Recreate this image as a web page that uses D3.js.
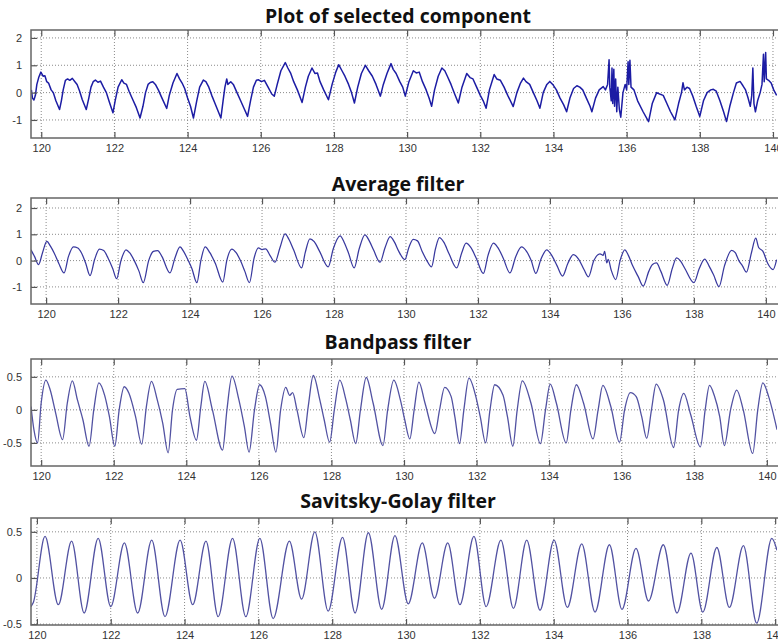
<!DOCTYPE html>
<html>
<head>
<meta charset="utf-8">
<script src="https://cdn.jsdelivr.net/npm/d3@7"></script>
<style>
  body { margin: 0; background: #fff; }
  .tick text { font-family: "Liberation Sans", Arial, sans-serif; font-size: 11px; fill: #333; }
  .title { font-family: "Open Sans", Lato, sans-serif; font-weight: bold; font-size: 19.5px; fill: #111; }
</style>
</head>
<body>
<div id="chart"></div>
<script>
// x ticks shared by every panel
const xTicks = [120, 122, 124, 126, 128, 130, 132, 134, 136, 138, 140];
const yTicksRaw = [2, 1, 0, -1];
const yTicksFiltered = [0.5, 0, -0.5];

const titles = ["Plot of selected component", "Average filter", "Bandpass filter", "Savitsky-Golay filter"];

// [time (s), amplitude]
const component = [
  [119.73, 0.1], [119.76, -0.2], [119.8, -0.27], [119.84, -0.1], [119.88, 0.3], [119.93, 0.55], [119.99, 0.75],
  [120.05, 0.6], [120.1, 0.62], [120.15, 0.4], [120.2, 0.35], [120.27, 0.1], [120.33, 0.0], [120.4, -0.3], [120.5, -0.62],
  [120.55, -0.3], [120.6, 0.1], [120.66, 0.45], [120.72, 0.5], [120.78, 0.45], [120.85, 0.52], [120.92, 0.4], [120.98, 0.3],
  [121.05, 0.05], [121.12, -0.25], [121.23, -0.62], [121.3, -0.2], [121.36, 0.2], [121.42, 0.4], [121.48, 0.46], [121.55, 0.38],
  [121.62, 0.42], [121.7, 0.2], [121.78, 0.0], [121.85, -0.3], [121.9, -0.5], [121.96, -0.74], [122.02, -0.3], [122.1, 0.2],
  [122.2, 0.47], [122.26, 0.35], [122.33, 0.3], [122.4, 0.05], [122.5, -0.25], [122.6, -0.55], [122.7, -0.93], [122.78, -0.5],
  [122.85, 0.0], [122.92, 0.3], [122.98, 0.37], [123.05, 0.4], [123.12, 0.3], [123.2, 0.1], [123.3, -0.2], [123.43, -0.58],
  [123.5, -0.1], [123.6, 0.35], [123.71, 0.7], [123.78, 0.5], [123.85, 0.35], [123.92, 0.15], [124.0, -0.2], [124.08, -0.5],
  [124.16, -0.93], [124.25, -0.3], [124.33, 0.2], [124.43, 0.46], [124.5, 0.4], [124.58, 0.2], [124.66, -0.1], [124.75, -0.4],
  [124.91, -0.93], [124.97, -0.3], [125.02, 0.2], [125.07, 0.5], [125.1, 0.3], [125.18, 0.4], [125.25, 0.3], [125.35, 0.0],
  [125.45, -0.3], [125.55, -0.6], [125.64, -0.87], [125.72, -0.3], [125.8, 0.2], [125.88, 0.45], [125.94, 0.47], [126.02, 0.4],
  [126.1, 0.45], [126.2, 0.2], [126.3, -0.05], [126.37, -0.13], [126.45, 0.3], [126.55, 0.8], [126.67, 1.1], [126.74, 0.9],
  [126.82, 0.7], [126.9, 0.4], [127.0, 0.1], [127.13, -0.36], [127.22, 0.2], [127.3, 0.6], [127.4, 0.9], [127.48, 0.7],
  [127.55, 0.72], [127.62, 0.4], [127.72, 0.1], [127.85, -0.26], [127.95, 0.3], [128.05, 0.75], [128.13, 1.02], [128.22, 0.8],
  [128.3, 0.6], [128.4, 0.3], [128.48, 0.0], [128.56, -0.38], [128.65, 0.2], [128.75, 0.7], [128.86, 1.0], [128.95, 0.8],
  [129.05, 0.6], [129.15, 0.3], [129.27, -0.13], [129.35, 0.3], [129.45, 0.7], [129.56, 1.06], [129.62, 0.85], [129.7, 0.7],
  [129.8, 0.4], [129.88, 0.2], [129.95, -0.13], [130.05, 0.4], [130.17, 0.8], [130.25, 0.72], [130.33, 0.75], [130.42, 0.4],
  [130.52, 0.1], [130.6, -0.2], [130.67, -0.5], [130.75, 0.1], [130.85, 0.6], [130.95, 0.9], [131.03, 0.8], [131.1, 0.6],
  [131.2, 0.3], [131.3, -0.05], [131.4, -0.38], [131.5, 0.2], [131.63, 0.7], [131.72, 0.55], [131.8, 0.5], [131.9, 0.2],
  [132.0, -0.1], [132.08, -0.3], [132.16, -0.57], [132.25, 0.1], [132.38, 0.66], [132.45, 0.5], [132.55, 0.45], [132.65, 0.2],
  [132.75, -0.1], [132.9, -0.51], [133.0, 0.0], [133.1, 0.35], [133.18, 0.53], [133.25, 0.4], [133.35, 0.3], [133.45, 0.0],
  [133.55, -0.3], [133.63, -0.57], [133.72, 0.0], [133.82, 0.3], [133.9, 0.41], [133.98, 0.3], [134.08, 0.1], [134.18, -0.2],
  [134.28, -0.45], [134.36, -0.7], [134.45, -0.2], [134.55, 0.15], [134.64, 0.25], [134.72, 0.2], [134.8, 0.1], [134.9, -0.2],
  [135.0, -0.5], [135.05, -0.7], [135.15, -0.2], [135.25, 0.1], [135.36, 0.22], [135.42, 0.1], [135.48, 0.3], [135.52, 1.2],
  [135.54, 0.2], [135.58, -0.3], [135.6, 0.9], [135.62, -0.4], [135.65, 0.85], [135.67, -0.5], [135.7, 0.5], [135.73, -0.7],
  [135.76, 0.2], [135.8, -0.6], [135.84, -0.9], [135.9, 0.0], [135.96, 0.3], [136.0, 0.1], [136.04, 1.13], [136.06, 0.3],
  [136.09, 1.18], [136.12, 0.2], [136.2, 0.1], [136.3, -0.3], [136.45, -0.7], [136.6, -1.06], [136.7, -0.4], [136.82, 0.0],
  [136.9, -0.05], [137.0, -0.1], [137.1, -0.4], [137.2, -0.7], [137.32, -1.0], [137.42, -0.4], [137.5, 0.0], [137.54, 0.36],
  [137.58, 0.1], [137.65, 0.2], [137.72, 0.15], [137.8, -0.1], [137.9, -0.5], [138.0, -0.87], [138.1, -0.3], [138.2, 0.0],
  [138.3, 0.1], [138.37, 0.12], [138.45, 0.05], [138.55, -0.3], [138.65, -0.7], [138.73, -1.06], [138.82, -0.5], [138.92, 0.0],
  [139.0, 0.35], [139.1, 0.41], [139.18, 0.25], [139.25, 0.1], [139.32, -0.2], [139.38, -0.5], [139.42, -0.1], [139.45, 0.9],
  [139.48, -0.4], [139.52, -0.7], [139.58, -0.3], [139.65, 0.0], [139.7, 0.3], [139.74, 1.4], [139.76, 0.4], [139.8, 1.47],
  [139.82, 0.5], [139.88, 0.45], [139.95, 0.35], [140.02, 0.1], [140.1, -0.1]
];

const averaged = [
  [119.58, 0.41], [119.68, 0.15], [119.79, -0.15], [119.9, 0.3], [120.02, 0.73], [120.12, 0.55], [120.22, 0.3], [120.35, -0.1],
  [120.5, -0.47], [120.62, 0.15], [120.76, 0.52], [120.88, 0.48], [120.98, 0.3], [121.1, -0.1], [121.22, -0.57], [121.35, 0.05],
  [121.48, 0.44], [121.6, 0.38], [121.72, 0.1], [121.85, -0.3], [121.96, -0.69], [122.08, 0.0], [122.22, 0.41], [122.32, 0.3],
  [122.45, 0.0], [122.58, -0.4], [122.7, -0.84], [122.85, 0.0], [122.98, 0.35], [123.1, 0.38], [123.22, 0.15], [123.44, -0.47],
  [123.58, 0.1], [123.72, 0.52], [123.82, 0.35], [123.95, 0.0], [124.05, -0.3], [124.19, -0.84], [124.3, 0.0], [124.42, 0.52],
  [124.55, 0.3], [124.7, -0.1], [124.91, -0.82], [125.02, 0.0], [125.16, 0.44], [125.28, 0.3], [125.4, 0.0], [125.52, -0.4],
  [125.65, -0.84], [125.78, 0.1], [125.9, 0.48], [126.0, 0.42], [126.1, 0.45], [126.22, 0.2], [126.36, -0.06], [126.5, 0.5],
  [126.64, 1.02], [126.75, 0.8], [126.88, 0.4], [127.1, -0.28], [127.2, 0.3], [127.33, 0.83], [127.45, 0.72], [127.6, 0.35],
  [127.84, -0.24], [127.98, 0.45], [128.17, 0.94], [128.28, 0.7], [128.4, 0.3], [128.56, -0.28], [128.7, 0.45], [128.86, 0.98],
  [128.98, 0.75], [129.1, 0.4], [129.28, -0.06], [129.42, 0.5], [129.56, 0.91], [129.68, 0.7], [129.8, 0.35], [129.97, 0.04],
  [130.08, 0.5], [130.2, 0.81], [130.32, 0.75], [130.45, 0.35], [130.58, 0.0], [130.71, -0.24], [130.82, 0.45], [130.93, 0.87],
  [131.05, 0.7], [131.2, 0.25], [131.41, -0.28], [131.55, 0.3], [131.67, 0.66], [131.8, 0.5], [131.95, 0.1], [132.15, -0.49],
  [132.28, 0.2], [132.43, 0.66], [132.55, 0.5], [132.7, 0.1], [132.89, -0.47], [133.05, 0.15], [133.21, 0.52], [133.35, 0.35],
  [133.48, 0.0], [133.61, -0.49], [133.75, 0.05], [133.91, 0.41], [134.05, 0.2], [134.2, -0.2], [134.35, -0.59], [134.5, -0.1],
  [134.65, 0.23], [134.8, 0.05], [134.95, -0.35], [135.07, -0.62], [135.22, 0.0], [135.39, 0.26], [135.48, 0.2], [135.52, 0.35],
  [135.58, -0.09], [135.62, 0.05], [135.7, -0.35], [135.83, -0.72], [135.95, 0.0], [136.08, 0.41], [136.18, 0.2], [136.3, -0.2],
  [136.45, -0.6], [136.59, -0.97], [136.75, -0.4], [136.85, -0.15], [136.96, -0.09], [137.08, -0.4], [137.26, -0.94], [137.4, -0.3],
  [137.52, 0.1], [137.62, 0.0], [137.75, -0.3], [138.0, -0.84], [138.15, -0.3], [138.3, 0.06], [138.42, -0.2], [138.55, -0.55],
  [138.7, -0.99], [138.85, -0.2], [139.05, 0.39], [139.15, 0.3], [139.25, 0.0], [139.35, -0.2], [139.46, -0.44], [139.6, 0.3],
  [139.72, 0.85], [139.8, 0.5], [139.92, 0.35], [140.05, -0.1], [140.2, -0.34], [140.3, 0.04]
];

const bandpass = [
  [119.72, 0.05], [119.8, -0.3], [119.9, -0.5], [120.0, 0.1], [120.13, 0.45], [120.25, 0.3], [120.4, -0.05], [120.59, -0.45],
  [120.72, 0.1], [120.86, 0.44], [121.0, 0.15], [121.15, -0.15], [121.32, -0.55], [121.45, 0.0], [121.59, 0.41], [121.75, 0.22],
  [121.88, -0.1], [122.03, -0.55], [122.15, 0.0], [122.29, 0.35], [122.42, 0.25], [122.6, -0.1], [122.77, -0.52], [122.9, 0.05],
  [123.04, 0.43], [123.2, 0.15], [123.35, -0.2], [123.5, -0.65], [123.62, 0.0], [123.75, 0.31], [123.96, 0.32], [124.1, -0.1],
  [124.28, -0.46], [124.4, 0.05], [124.51, 0.43], [124.72, 0.0], [125.0, -0.61], [125.12, 0.0], [125.26, 0.51], [125.45, 0.15],
  [125.6, -0.25], [125.73, -0.64], [125.88, 0.0], [126.02, 0.38], [126.18, 0.2], [126.32, -0.2], [126.47, -0.64], [126.6, 0.0],
  [126.74, 0.34], [126.85, 0.22], [126.93, 0.26], [127.05, 0.0], [127.24, -0.42], [127.36, 0.05], [127.5, 0.52], [127.68, 0.15],
  [127.8, -0.15], [127.95, -0.49], [128.08, 0.0], [128.23, 0.45], [128.4, 0.15], [128.52, -0.15], [128.67, -0.51], [128.8, 0.0],
  [128.96, 0.49], [129.15, 0.1], [129.42, -0.54], [129.55, 0.0], [129.72, 0.45], [129.9, 0.15], [130.02, -0.15], [130.16, -0.44],
  [130.28, 0.0], [130.41, 0.42], [130.58, 0.1], [130.85, -0.36], [130.98, 0.0], [131.12, 0.34], [131.3, 0.2], [131.4, -0.1],
  [131.53, -0.51], [131.65, 0.0], [131.79, 0.48], [131.98, 0.2], [132.1, -0.1], [132.25, -0.5], [132.37, 0.0], [132.5, 0.38],
  [132.73, 0.22], [132.85, -0.1], [133.0, -0.55], [133.12, 0.0], [133.26, 0.44], [133.5, 0.1], [133.76, -0.51], [133.9, 0.0],
  [134.03, 0.39], [134.2, 0.1], [134.47, -0.5], [134.6, 0.0], [134.75, 0.38], [134.95, 0.1], [135.21, -0.44], [135.35, 0.0],
  [135.48, 0.37], [135.7, 0.05], [135.94, -0.49], [136.08, 0.0], [136.24, 0.26], [136.4, 0.2], [136.55, -0.1], [136.69, -0.43],
  [136.82, 0.0], [136.95, 0.39], [137.15, 0.15], [137.43, -0.57], [137.57, 0.0], [137.71, 0.25], [137.9, -0.07], [138.17, -0.56],
  [138.3, 0.0], [138.42, 0.37], [138.55, 0.22], [138.7, -0.1], [138.83, -0.54], [139.0, 0.0], [139.17, 0.3], [139.35, 0.0],
  [139.61, -0.66], [139.75, 0.0], [139.89, 0.41], [140.05, 0.2], [140.28, -0.3]
];

const savgol = [
  [119.84, -0.31], [119.9, -0.27], [120.22, 0.45], [120.58, -0.29], [120.94, 0.4], [121.28, -0.38], [121.66, 0.43], [122.0, -0.31],
  [122.37, 0.38], [122.73, -0.38], [123.11, 0.41], [123.47, -0.42], [123.88, 0.41], [124.22, -0.29], [124.58, 0.4], [124.91, -0.42],
  [125.3, 0.43], [125.66, -0.42], [126.04, 0.43], [126.4, -0.44], [126.84, 0.4], [127.17, -0.23], [127.53, 0.5], [127.89, -0.36],
  [128.28, 0.44], [128.62, -0.38], [128.98, 0.49], [129.34, -0.34], [129.7, 0.46], [130.06, -0.28], [130.44, 0.38], [130.77, -0.22],
  [131.13, 0.38], [131.46, -0.29], [131.84, 0.45], [132.17, -0.31], [132.57, 0.41], [132.91, -0.33], [133.27, 0.41], [133.63, -0.35],
  [134.01, 0.41], [134.37, -0.32], [134.76, 0.37], [135.12, -0.37], [135.51, 0.36], [135.85, -0.34], [136.23, 0.32], [136.57, -0.25],
  [136.97, 0.36], [137.34, -0.38], [137.72, 0.27], [138.04, -0.37], [138.42, 0.33], [138.76, -0.32], [139.14, 0.35], [139.5, -0.49],
  [139.91, 0.43], [140.05, 0.3]
];

const width = 778, height = 641;
const left = 31, right = 777;

// per-panel layout: pixel box, domains, styling
const panels = [
  { title: titles[0], titleY: 23, top: 30, bottom: 138, xDom: [119.72, 140.11], yDom: [-1.66, 2.29],
    yTicks: yTicksRaw, data: component, color: "#1c1ca4", curve: d3.curveLinear, sw: 1.5 },
  { title: titles[1], titleY: 191, top: 198, bottom: 304, xDom: [119.58, 140.31], yDom: [-1.65, 2.38],
    yTicks: yTicksRaw, data: averaged, color: "#38389e", curve: d3.curveMonotoneX, sw: 1.25 },
  { title: titles[2], titleY: 349, top: 359, bottom: 466, xDom: [119.72, 140.28], yDom: [-0.85, 0.77],
    yTicks: yTicksFiltered, data: bandpass, color: "#5252a2", curve: d3.curveMonotoneX, sw: 1.3 },
  { title: titles[3], titleY: 508, top: 518, bottom: 625, xDom: [119.84, 140.05], yDom: [-0.51, 0.65],
    yTicks: yTicksFiltered, data: savgol, color: "#5252a2", curve: d3.curveMonotoneX, sw: 1.3 }
];

const svg = d3.select("#chart").append("svg")
  .attr("width", width)
  .attr("height", height);

panels.forEach((p, i) => {
  const x = d3.scaleLinear().domain(p.xDom).range([left, right]);
  const y = d3.scaleLinear().domain(p.yDom).range([p.bottom, p.top]);

  const g = svg.append("g");

  // title
  g.append("text")
    .attr("class", "title")
    .attr("x", 398)
    .attr("y", p.titleY)
    .attr("text-anchor", "middle")
    .text(p.title);

  // dotted grid
  g.selectAll(".vgrid").data(xTicks).join("line")
    .attr("x1", d => x(d)).attr("x2", d => x(d))
    .attr("y1", p.top).attr("y2", p.bottom)
    .attr("stroke", "#8a8a8a").attr("stroke-width", 1)
    .attr("stroke-dasharray", "1,2");
  g.selectAll(".hgrid").data(p.yTicks).join("line")
    .attr("x1", left).attr("x2", right)
    .attr("y1", d => y(d)).attr("y2", d => y(d))
    .attr("stroke", "#8a8a8a").attr("stroke-width", 1)
    .attr("stroke-dasharray", "1,2");

  // clip so the trace stays in the box
  svg.append("clipPath").attr("id", "clip" + i)
    .append("rect")
    .attr("x", left).attr("y", p.top)
    .attr("width", right - left).attr("height", p.bottom - p.top);

  const line = d3.line()
    .x(d => x(d[0]))
    .y(d => y(d[1]))
    .curve(p.curve);

  g.append("path")
    .datum(p.data)
    .attr("clip-path", `url(#clip${i})`)
    .attr("fill", "none")
    .attr("stroke", p.color)
    .attr("stroke-width", p.sw)
    .attr("stroke-linejoin", "round")
    .attr("d", line);

  // axes with ticks pointing inwards, matlab style
  const fmt = d => String(d);
  const xAxis = g.append("g")
    .attr("transform", `translate(0,${p.bottom})`)
    .call(d3.axisBottom(x).tickValues(xTicks).tickSize(-6).tickPadding(6).tickFormat(fmt));
  const xTop = g.append("g")
    .attr("transform", `translate(0,${p.top})`)
    .call(d3.axisTop(x).tickValues(xTicks).tickSize(-6).tickFormat(""));
  const yAxis = g.append("g")
    .attr("transform", `translate(${left},0)`)
    .call(d3.axisLeft(y).tickValues(p.yTicks).tickSize(-6).tickPadding(9).tickFormat(fmt));

  [xAxis, xTop, yAxis].forEach(a => {
    a.select(".domain").remove();
    a.selectAll(".tick line").attr("stroke", "#555").attr("stroke-width", 1.2);
  });

  // axes box
  g.append("rect")
    .attr("x", left).attr("y", p.top)
    .attr("width", right - left + 4).attr("height", p.bottom - p.top)
    .attr("fill", "none")
    .attr("stroke", "#666")
    .attr("stroke-width", 1.5);
});
</script>
</body>
</html>
